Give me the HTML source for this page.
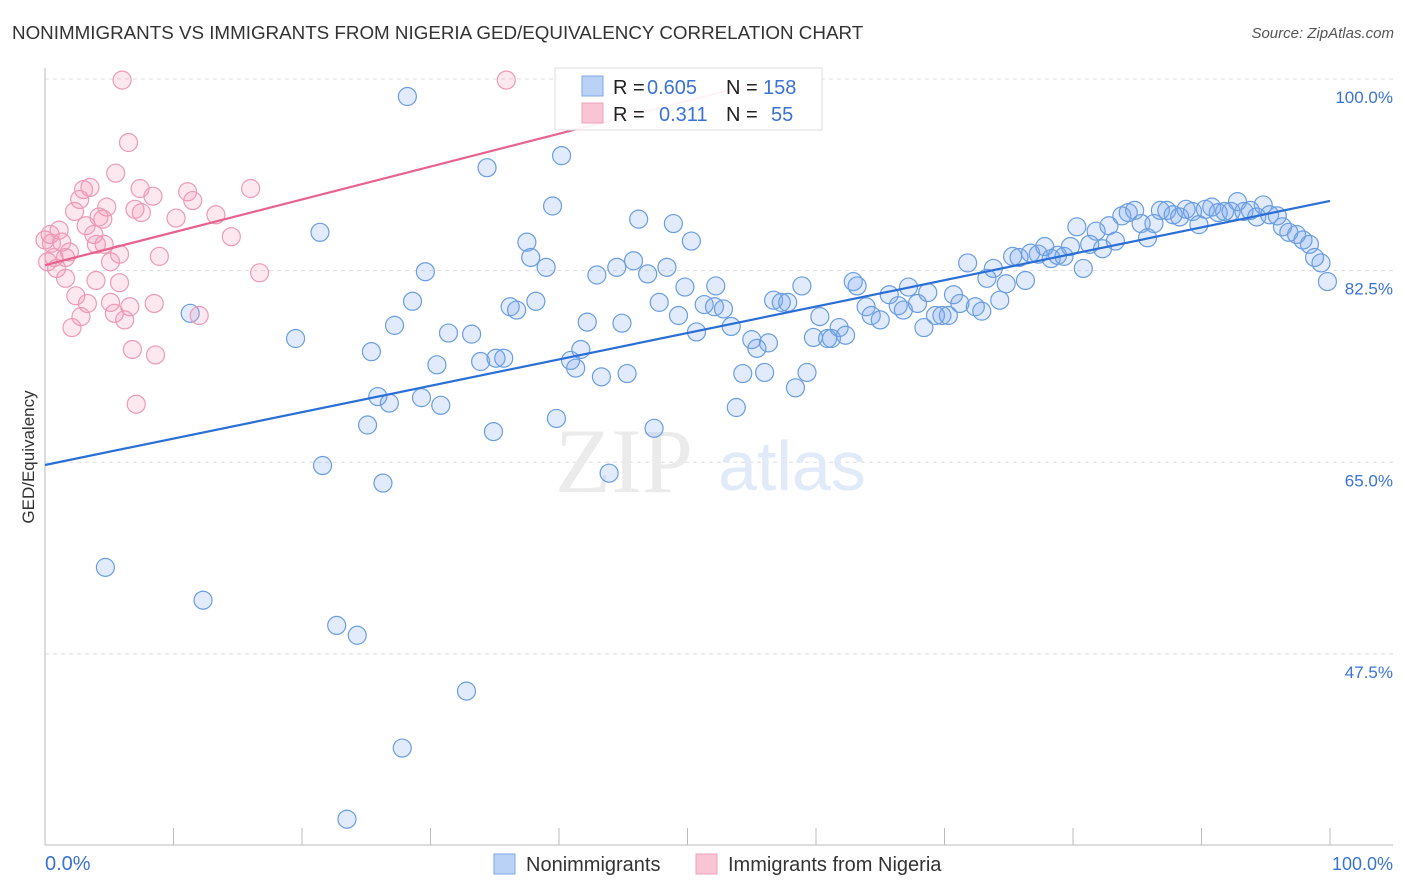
<!DOCTYPE html>
<html><head><meta charset="utf-8">
<style>
body{margin:0;background:#fff;font-family:"Liberation Sans",sans-serif;}
#wrap{position:relative;width:1406px;height:892px;overflow:hidden;}
.t{position:absolute;white-space:nowrap;}
</style></head>
<body>
<div id="wrap">
<div class="t" style="left:12px;top:22px;font-size:18.8px;color:#333;">NONIMMIGRANTS VS IMMIGRANTS FROM NIGERIA GED/EQUIVALENCY CORRELATION CHART</div>
<div class="t" style="right:12px;top:25px;font-size:15px;color:#555;font-style:italic;">Source: ZipAtlas.com</div>
<svg id="svg" width="1406" height="892" style="position:absolute;left:0;top:0"></svg>
</div>
<script>
const yTicks=[100,82.5,65,47.5];
const blueX=[28.2,40.2,34.4,39.5,21.4,46.2,48.9,37.5,50.3,37.8,39.0,29.6,42.95,44.5,45.8,46.9,48.4,49.8,52.2,58.9,28.6,38.2,36.2,36.7,47.8,51.3,52.1,52.8,56.7,57.3,57.8,49.3,11.3,42.2,44.9,27.2,53.4,50.7,60.3,61.8,59.8,60.9,61.2,62.3,55.0,56.3,55.4,19.5,31.4,33.2,25.4,41.7,40.9,41.3,30.5,33.9,35.1,35.7,43.3,45.3,54.3,56.0,59.3,58.4,25.9,26.8,29.3,30.8,53.8,25.1,39.8,34.9,47.4,21.6,43.9,26.3,4.7,12.3,22.7,24.3,32.8,27.8,23.5,62.9,63.2,63.9,64.3,65.0,65.7,66.4,66.8,67.2,67.9,68.4,68.7,69.3,69.8,70.3,70.7,71.2,71.8,72.4,72.9,73.3,73.8,74.3,74.8,75.3,75.8,76.3,76.7,77.3,77.8,78.3,78.8,79.3,79.8,80.3,80.8,81.3,81.8,82.3,82.8,83.3,83.8,84.3,84.8,85.3,85.8,86.3,86.8,87.3,87.8,88.3,88.8,89.3,89.8,90.3,90.8,91.3,91.8,92.3,92.8,93.3,93.8,94.3,94.8,95.3,95.9,96.3,96.8,97.4,97.9,98.4,98.8,99.3,99.8];
const blueY=[98.4,93.0,91.9,88.4,86.0,87.2,86.8,85.1,85.2,83.7,82.8,82.4,82.1,82.8,83.4,82.2,82.8,81.0,81.1,81.1,79.7,79.7,79.2,78.9,79.6,79.4,79.2,79.0,79.8,79.6,79.6,78.4,78.6,77.8,77.7,77.5,77.4,76.9,78.3,77.3,76.4,76.3,76.3,76.6,76.2,75.9,75.4,76.3,76.8,76.7,75.1,75.3,74.3,73.6,73.9,74.2,74.5,74.5,72.8,73.1,73.1,73.2,73.2,71.8,71.0,70.4,70.9,70.2,70.0,68.4,69.0,67.8,68.1,64.7,64.0,63.1,55.4,52.4,50.1,49.2,44.1,38.9,32.4,81.5,81.1,79.2,78.4,78.0,80.3,79.3,78.9,81.0,79.5,77.3,80.5,78.4,78.4,78.4,80.3,79.5,83.2,79.2,78.8,81.8,82.7,79.8,81.3,83.8,83.7,81.6,84.1,84.0,84.7,83.6,83.9,83.8,84.7,86.5,82.7,84.9,86.1,84.5,86.6,85.2,87.5,87.8,88.0,86.8,85.5,86.8,88.0,88.0,87.6,87.4,88.1,87.9,86.7,88.1,88.3,87.8,87.9,87.9,88.8,87.9,88.0,87.4,88.5,87.6,87.5,86.5,86.0,85.8,85.3,84.9,83.7,83.2,81.5];
const pinkX=[6.0,35.9,6.5,5.5,3.5,3.0,7.4,11.1,16.0,8.4,2.7,11.5,4.8,7.0,2.3,7.5,10.2,13.3,4.2,4.5,3.2,3.8,0.4,1.1,14.5,0.5,1.3,4.0,4.6,1.9,5.8,8.9,0.7,1.6,5.1,0.9,16.7,1.6,3.97,5.8,2.4,3.3,5.1,6.6,8.5,5.4,12.0,2.8,6.2,2.1,6.8,8.6,7.1,0.0,0.2];
const pinkY=[99.9,99.9,94.2,91.4,90.1,89.9,90.0,89.7,90.0,89.3,89.0,88.9,88.3,88.1,87.9,87.8,87.3,87.6,87.4,87.2,86.6,85.8,85.8,86.2,85.6,85.0,85.1,84.9,84.9,84.2,84.0,83.8,83.7,83.7,83.3,82.7,82.3,81.8,81.6,81.4,80.2,79.5,79.6,79.2,79.5,78.6,78.4,78.3,78.0,77.3,75.3,74.8,70.3,85.3,83.3];
const blueFit=[64.75,88.86];
const pinkFit=[83.0,0.3,55];
const NS='http://www.w3.org/2000/svg';
const svg=document.getElementById('svg');
const X=v=>45+v*12.85, Y=v=>79+(100-v)*10.95;
function el(t,a,p){const e=document.createElementNS(NS,t);for(const k in a)e.setAttribute(k,a[k]);(p||svg).appendChild(e);return e;}
yTicks.forEach((v,i)=>{
 const g=el('line',{x1:45,x2:1393,y1:Y(v),y2:Y(v),stroke:'#ddd','stroke-dasharray':'4,4'});
 
 
 const t=el('text',{x:1393,y:Y(v)+24,'text-anchor':'end','font-size':'17',fill:'#3b73d4','font-family':'Liberation Sans, sans-serif'});
 t.textContent=v.toFixed(1)+'%';
 
 
});
el('line',{x1:45,x2:45,y1:68,y2:845,stroke:'#bbb'});
el('line',{x1:45,x2:1393,y1:845,y2:845,stroke:'#bbb'});
for(let i=0;i<=10;i++){const tk=el('line',{x1:X(i*10),x2:X(i*10),y1:828,y2:845,stroke:'#bbb'});
 
 }
const w1=el('text',{x:555,y:492,'font-size':'92','font-family':'Liberation Serif, serif',fill:'#ebebeb'});w1.textContent='ZIP';


const w2=el('text',{x:718,y:490,'font-size':'70','font-family':'Liberation Sans, sans-serif',fill:'#e0eaf8'});w2.textContent='atlas';


blueX.forEach((x,i)=>{const c=el('circle',{cx:X(x),cy:Y(blueY[i]),r:9,fill:'rgba(120,165,235,0.22)',stroke:'#6a9de0','stroke-width':1.2});
 
 });
pinkX.forEach((x,i)=>{const c=el('circle',{cx:X(x),cy:Y(pinkY[i]),r:9,fill:'rgba(245,150,180,0.22)',stroke:'#ec9ab5','stroke-width':1.2});
 
 });
const bl=el('line',{x1:X(0),y1:Y(blueFit[0]),x2:X(100),y2:Y(blueFit[1]),stroke:'#2a6fd6','stroke-width':2.2});


const pl=el('line',{x1:X(0),y1:Y(pinkFit[0]),x2:X(pinkFit[2]),y2:Y(pinkFit[0]+pinkFit[1]*pinkFit[2]),stroke:'#e8628e','stroke-width':2.2});


const lg=el('rect',{x:555,y:68,width:267,height:62,fill:'rgba(255,255,255,0.93)',stroke:'#ddd'});


el('rect',{x:582,y:76,width:21,height:20,fill:'#b9d2f5',stroke:'#7fa8e6'});
el('rect',{x:582,y:103,width:21,height:20,fill:'#f9c4d4',stroke:'#eea0ba'});
function tx(x,y,s,c,d){const t=el('text',{x:x,y:y,'font-size':'20','font-family':'Liberation Sans, sans-serif',fill:c});t.textContent=s;}
tx(613,94,'R =','#222','legend-r-label');tx(647,94,'0.605','#3b73d4','legend-r-blue');
tx(726,94,'N =','#222','legend-n-label');tx(763,94,'158','#3b73d4','legend-n-blue');
tx(613,121,'R =','#222','legend-r-label');tx(659,121,'0.311','#3b73d4','legend-r-pink');
tx(726,121,'N =','#222','legend-n-label');tx(771,121,'55','#3b73d4','legend-n-pink');
tx(45,870,'0.0%','#3b73d4','x-min-label');
const xr=el('text',{x:1393,y:870,'text-anchor':'end','font-size':'18',fill:'#3b73d4','font-family':'Liberation Sans, sans-serif'});xr.textContent='100.0%';


const yt=el('text',{x:0,y:0,transform:'translate(34,457) rotate(-90)','text-anchor':'middle','font-size':'17',fill:'#333','font-family':'Liberation Sans, sans-serif'});yt.textContent='GED/Equivalency';


el('rect',{x:494,y:854,width:21,height:20,fill:'#b9d2f5',stroke:'#7fa8e6'});
tx(526,871,'Nonimmigrants','#333','legend-entry-nonimmigrants');
el('rect',{x:696,y:854,width:21,height:20,fill:'#f9c4d4',stroke:'#eea0ba'});
tx(728,871,'Immigrants from Nigeria','#333','legend-entry-immigrants');
</script>
</body></html>
